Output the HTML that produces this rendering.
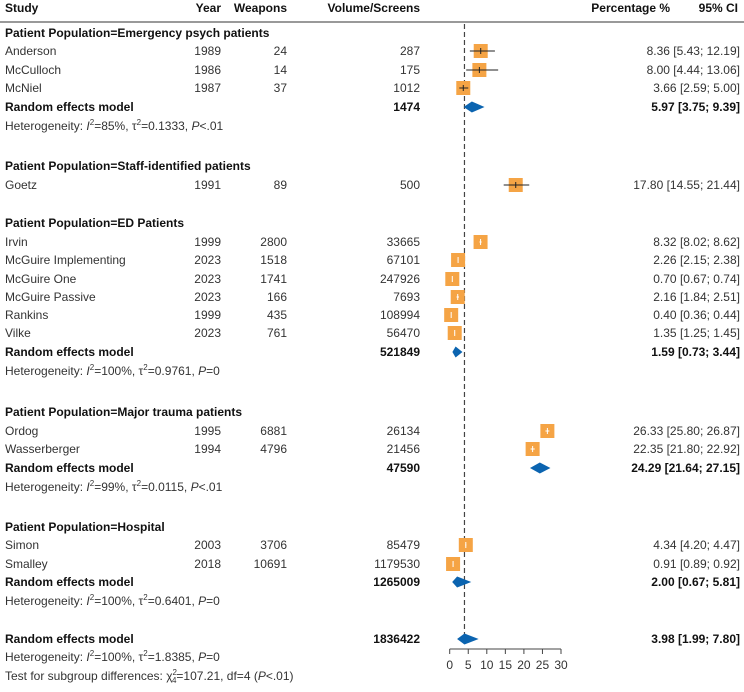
<!DOCTYPE html>
<html><head><meta charset="utf-8"><style>
body{margin:0;background:#fff;}
svg text{font-family:"Liberation Sans",sans-serif;font-size:12px;fill:#333;}
.b{font-weight:bold;fill:#111;}
</style></head><body>
<svg id="c" width="744" height="687">
<g>
<text class="b" x="5" y="12">Study</text>
<text class="b" x="221" y="12" text-anchor="end">Year</text>
<text class="b" x="287" y="12" text-anchor="end">Weapons</text>
<text class="b" x="420" y="12" text-anchor="end">Volume/Screens</text>
<text class="b" x="670" y="12" text-anchor="end">Percentage %</text>
<text class="b" x="738" y="12" text-anchor="end">95% CI</text>
<line x1="0" x2="744" y1="22" y2="22" stroke="#333" stroke-width="1"/>
</g>
<g id="rows"></g>
<g id="axis"></g>
</svg>
<script>
const studies=["Anderson","McCulloch","McNiel","Goetz","Irvin","McGuire Implementing","McGuire One","McGuire Passive","Rankins","Vilke","Ordog","Wasserberger","Simon","Smalley"];
const years=[1989,1986,1987,1991,1999,2023,2023,2023,1999,2023,1995,1994,2003,2018];
const weapons=[24,14,37,89,2800,1518,1741,166,435,761,6881,4796,3706,10691];
const volumes=[287,175,1012,500,33665,67101,247926,7693,108994,56470,26134,21456,85479,1179530];
const est=[8.36,8.00,3.66,17.80,8.32,2.26,0.70,2.16,0.40,1.35,26.33,22.35,4.34,0.91];
const lo=[5.43,4.44,2.59,14.55,8.02,2.15,0.67,1.84,0.36,1.25,25.80,21.80,4.20,0.89];
const hi=[12.19,13.06,5.00,21.44,8.62,2.38,0.74,2.51,0.44,1.45,26.87,22.92,4.47,0.92];
const studyY=[51,70,88,185,242,260,279,297,315,333,431,449,545,564];
const pooledLabels=["Random effects model","Random effects model","Random effects model","Random effects model","Random effects model"];
const pooledTotals=[1474,521849,47590,1265009,1836422];
const pooledEst=[5.97,1.59,24.29,2.00,3.98];
const pooledLo=[3.75,0.73,21.64,0.67,1.99];
const pooledHi=[9.39,3.44,27.15,5.81,7.80];
const pooledY=[107,352,468,582,639];
const groups=["Patient Population=Emergency psych patients","Patient Population=Staff-identified patients","Patient Population=ED Patients","Patient Population=Major trauma patients","Patient Population=Hospital"];
const groupY=[33,166,223,412,527];
const hetI2=["85%","100%","99%","100%","100%"];
const hetTau=["0.1333","0.9761","0.0115","0.6401","1.8385"];
const hetP=["P<.01","P=0","P<.01","P=0","P=0"];
const hetY=[126,371,487,601,657];
const ticks=[0,5,10,15,20,25,30];

const NS="http://www.w3.org/2000/svg";
const xs=v=>449.7+v*(111.3/30);
const g=document.getElementById("rows"), ax=document.getElementById("axis");
function el(tag,attrs,parent,txt){const e=document.createElementNS(NS,tag);for(const k in attrs)e.setAttribute(k,attrs[k]);if(txt!==undefined)e.textContent=txt;(parent||g).appendChild(e);return e;}
const f2=v=>v.toFixed(2);
// dashed overall line
let dl=el("line",{x1:xs(pooledEst[4]),x2:xs(pooledEst[4]),y1:24,y2:644,stroke:"#444","stroke-dasharray":"5,3","stroke-width":1.2});


groups.forEach((t,i)=>{const e=el("text",{x:5,y:groupY[i]+4,class:"b"},g,t);

});
studies.forEach((s,i)=>{const y=studyY[i];
const row=el("g",{});


el("text",{x:5,y:y+4},row,s);
el("text",{x:221,y:y+4,"text-anchor":"end"},row,years[i]);
el("text",{x:287,y:y+4,"text-anchor":"end"},row,weapons[i]);
el("text",{x:420,y:y+4,"text-anchor":"end"},row,volumes[i]);
el("text",{x:740,y:y+4,"text-anchor":"end"},row,f2(est[i])+" ["+f2(lo[i])+"; "+f2(hi[i])+"]");
const sq=el("rect",{x:xs(est[i])-7,y:y-7,width:14,height:14,fill:"#f5a445"},row);


const ci=el("line",{x1:xs(lo[i]),x2:xs(hi[i]),y1:y,y2:y,stroke:hi[i]-lo[i]>1.5?"#222":"#fff","stroke-width":1},row);


el("line",{x1:xs(est[i]),x2:xs(est[i]),y1:y-3,y2:y+3,stroke:hi[i]-lo[i]>1.5?"#222":"#fff","stroke-width":1},row);
});
pooledY.forEach((y,i)=>{
const row=el("g",{});


el("text",{x:5,y:y+4,class:"b"},row,pooledLabels[i]);
el("text",{x:420,y:y+4,"text-anchor":"end",class:"b"},row,pooledTotals[i]);
el("text",{x:740,y:y+4,"text-anchor":"end",class:"b"},row,f2(pooledEst[i])+" ["+f2(pooledLo[i])+"; "+f2(pooledHi[i])+"]");
const d=el("polygon",{points:`${xs(pooledLo[i])},${y} ${xs(pooledEst[i])},${y-5.5} ${xs(pooledHi[i])},${y} ${xs(pooledEst[i])},${y+5.5}`,fill:"#0b64b0"},row);


});
hetY.forEach((y,i)=>{const t=el("text",{x:5,y:y+4});


t.innerHTML=`Heterogeneity: <tspan font-style="italic">I</tspan><tspan dy="-5" font-size="8">2</tspan><tspan dy="5">=${hetI2[i]}, τ</tspan><tspan dy="-5" font-size="8">2</tspan><tspan dy="5">=${hetTau[i]}, </tspan><tspan font-style="italic">${hetP[i].slice(0,1)}</tspan>${hetP[i].slice(1)}`;});
const tt=el("text",{x:5,y:680});


tt.innerHTML=`Test for subgroup differences: χ<tspan dy="-5" font-size="8">2</tspan><tspan dy="8" dx="-5" font-size="8">4</tspan><tspan dy="-3">=107.21, df=4 (</tspan><tspan font-style="italic">P</tspan>&lt;.01)`;
// axis
el("line",{x1:xs(ticks[0]),x2:xs(ticks[ticks.length-1]),y1:649,y2:649,stroke:"#444","stroke-width":1},ax);
ticks.forEach(t=>{el("line",{x1:xs(t),x2:xs(t),y1:649,y2:654,stroke:"#444"},ax);
const l=el("text",{x:xs(t),y:669,"text-anchor":"middle"},ax,t);

});
</script>
</body></html>
